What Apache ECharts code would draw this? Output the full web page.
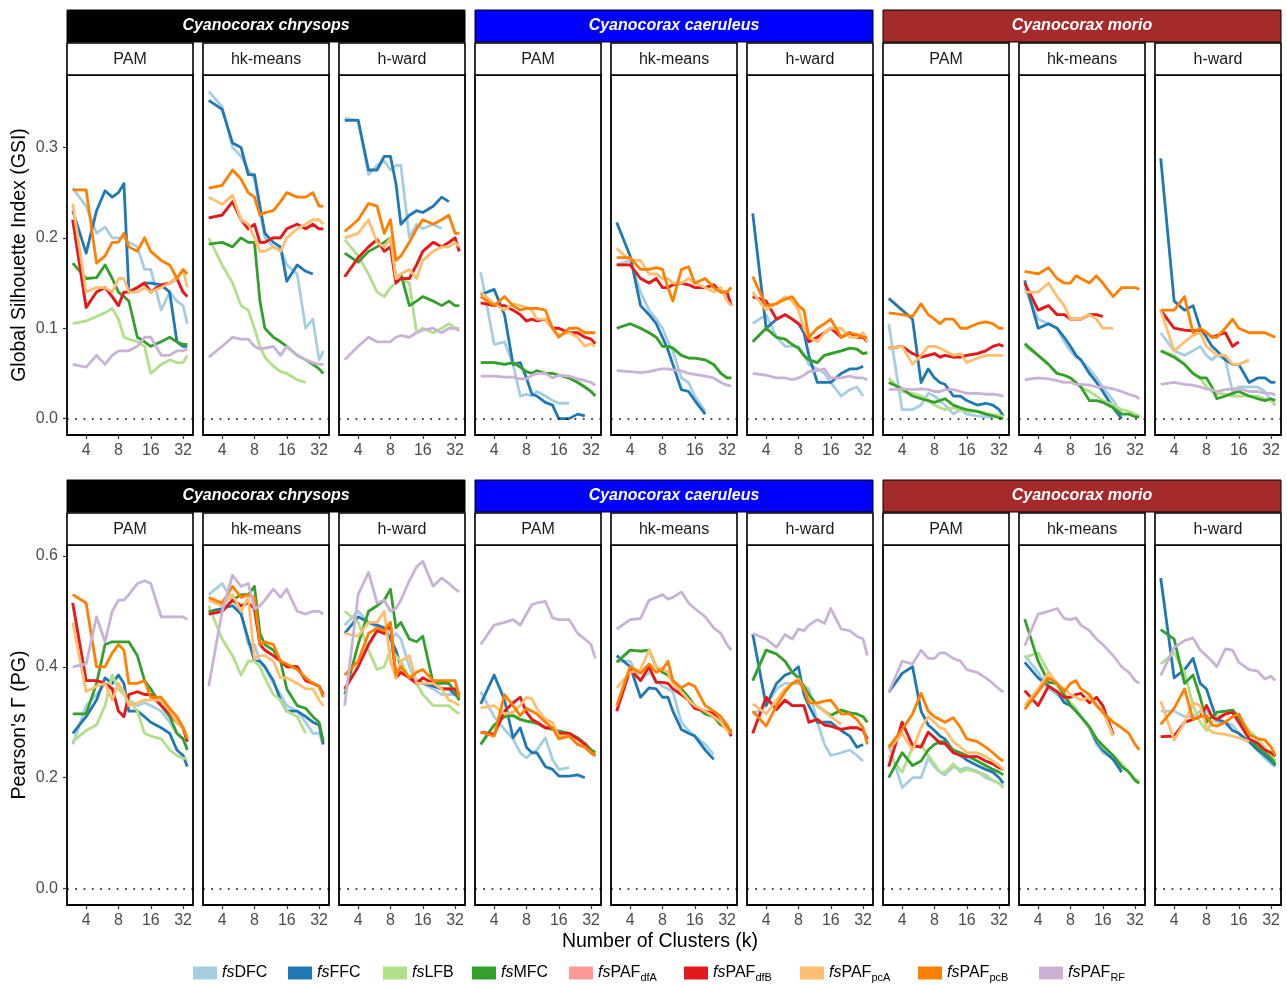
<!DOCTYPE html>
<html>
<head>
<meta charset="utf-8">
<script src="https://cdn.jsdelivr.net/npm/echarts@6/dist/echarts.min.js"></script>
<style>html,body{margin:0;padding:0;background:#fff}#c{width:1287px;height:985px}</style>
</head>
<body>
<div id="c"></div>
<script>
// ---------- data ----------
const K = [3,4,5,6,7,8,9,10,12,14,16,20,24,28,32,35];
const SPECIES = ['Cyanocorax chrysops','Cyanocorax caeruleus','Cyanocorax morio'];
const SPECIES_COLORS = ['#000000','#0000FF','#A52A2A'];
const METHODS = ['PAM','hk-means','h-ward'];
const SERIES_KEYS = ['DFC','FFC','LFB','MFC','dfA','dfB','pcA','pcB','RF'];
const SERIES_NAMES = ['fsDFC','fsFFC','fsLFB','fsMFC','fsPAF_dfA','fsPAF_dfB','fsPAF_pcA','fsPAF_pcB','fsPAF_RF'];
const SERIES_COLORS = ['#A6CEE3','#1F78B4','#B2DF8A','#33A02C','#FB9A99','#E31A1C','#FDBF6F','#FF7F00','#CAB2D6'];
const X_TICKS = [4,8,16,32];
const GSI_TICKS = [0,0.1,0.2,0.3];
const PG_TICKS = [0,0.2,0.4,0.6];
const GSI_LIMITS = [-0.0181, 0.3801];
const PG_LIMITS = [-0.0295, 0.6195];
const Y_TITLES = ['Global Silhouette Index (GSI)', "Pearson's \u0393 (PG)"];
const X_TITLE = 'Number of Clusters (k)';

// GSI (top row)
const GSI_chrysops_PAM = {
  DFC:[0.255,0.235,0.205,0.212,0.2,0.2,0.2,0.195,0.19,0.165,0.165,0.12,0.14,0.13,0.125,0.105],
  FFC:[0.23,0.183,0.23,0.252,0.245,0.25,0.26,0.14,0.145,0.15,0.15,0.148,0.14,0.085,0.08,0.08],
  LFB:[0.105,0.108,0.113,0.117,0.122,0.11,0.09,0.088,0.085,0.08,0.05,0.06,0.065,0.062,0.062,0.07],
  MFC:[0.172,0.155,0.156,0.17,0.155,0.14,0.135,0.13,0.09,0.085,0.08,0.085,0.09,0.085,0.082,0.082],
  dfB:[0.22,0.123,0.14,0.145,0.135,0.125,0.14,0.14,0.145,0.15,0.14,0.148,0.15,0.155,0.14,0.135],
  pcA:[0.238,0.14,0.145,0.145,0.14,0.155,0.155,0.14,0.14,0.145,0.14,0.145,0.15,0.155,0.165,0.145],
  pcB:[0.253,0.253,0.172,0.18,0.195,0.195,0.205,0.19,0.185,0.2,0.185,0.175,0.17,0.155,0.165,0.16],
  RF:[0.06,0.057,0.07,0.06,0.07,0.075,0.075,0.075,0.08,0.09,0.09,0.07,0.07,0.075,0.075,0.077]
};
const GSI_chrysops_hkmeans = {
  DFC:[0.362,0.345,0.3,0.29,0.275,0.265,0.23,0.2,0.19,0.188,0.17,0.16,0.1,0.11,0.065,0.075],
  FFC:[0.352,0.342,0.305,0.3,0.27,0.27,0.235,0.205,0.195,0.19,0.152,0.17,0.163,0.16,null,null],
  LFB:[0.2,0.17,0.15,0.125,0.12,0.1,0.08,0.068,0.058,0.052,0.05,0.043,0.04,null,null,null],
  MFC:[0.193,0.195,0.19,0.2,0.195,0.195,0.13,0.1,0.09,0.085,0.08,0.07,0.065,0.06,0.055,0.05],
  dfB:[0.222,0.225,0.24,0.22,0.21,0.215,0.195,0.195,0.2,0.2,0.21,0.215,0.21,0.215,0.21,0.21],
  pcA:[0.245,0.237,0.247,0.22,0.215,0.2,0.185,0.185,0.19,0.185,0.2,0.21,0.215,0.22,0.22,0.215],
  pcB:[0.255,0.258,0.275,0.265,0.25,0.245,0.225,0.228,0.23,0.24,0.25,0.245,0.245,0.25,0.235,0.235],
  RF:[0.068,0.08,0.09,0.088,0.088,0.08,0.077,0.078,0.08,0.07,0.08,0.07,0.065,0.062,0.06,0.06]
};
const GSI_chrysops_hward = {
  DFC:[0.332,0.33,0.27,0.28,0.285,0.275,0.28,0.28,0.2,0.215,0.21,0.215,0.21,null,null,null],
  FFC:[0.33,0.33,0.275,0.275,0.29,0.29,0.26,0.215,0.225,0.23,0.228,0.235,0.245,0.24,null,null],
  LFB:[0.198,0.18,0.16,0.14,0.135,0.145,0.15,0.155,0.15,0.095,0.1,0.095,0.1,0.105,0.1,0.1],
  MFC:[0.183,0.173,0.185,0.19,0.195,0.2,0.155,0.16,0.125,0.13,0.135,0.13,0.125,0.13,0.125,0.125],
  dfB:[0.157,0.178,0.19,0.198,0.185,0.19,0.15,0.155,0.155,0.17,0.185,0.195,0.19,0.195,0.2,0.185],
  pcA:[0.2,0.205,0.22,0.195,0.19,0.2,0.155,0.16,0.165,0.155,0.175,0.185,0.19,0.19,0.195,0.19],
  pcB:[0.207,0.22,0.238,0.235,0.205,0.22,0.175,0.18,0.195,0.21,0.22,0.215,0.22,0.225,0.205,0.205],
  RF:[0.065,0.08,0.09,0.085,0.085,0.085,0.09,0.092,0.09,0.095,0.098,0.1,0.095,0.1,0.1,0.097]
};
const GSI_caeruleus_PAM = {
  DFC:[0.162,0.082,0.085,0.06,0.025,0.027,0.025,0.03,0.025,0.02,0.017,0.017,null,null,null,null],
  FFC:[0.137,0.143,0.115,0.06,0.062,0.045,0.027,0.025,0.018,0.015,0.0,0.0,0.005,0.003,null,null],
  LFB:[0.062,0.062,0.06,0.062,0.057,0.052,0.05,0.053,0.05,0.05,0.048,0.045,0.04,0.035,0.03,0.025],
  MFC:[0.062,0.062,0.06,0.062,0.057,0.052,0.05,0.053,0.05,0.05,0.048,0.045,0.04,0.035,0.03,0.025],
  dfB:[0.128,0.125,0.125,0.12,0.115,0.108,0.11,0.108,0.11,0.1,0.1,0.095,0.095,0.09,0.088,0.083],
  pcA:[0.14,0.127,0.12,0.127,0.125,0.123,0.12,0.11,0.11,0.1,0.092,0.095,0.09,0.08,0.083,0.08],
  pcB:[0.135,0.125,0.135,0.125,0.12,0.122,0.122,0.122,0.12,0.1,0.09,0.1,0.1,0.095,0.095,0.095],
  RF:[0.047,0.047,0.046,0.046,0.044,0.044,0.048,0.05,0.05,0.045,0.048,0.047,0.044,0.042,0.04,0.037]
};
const GSI_caeruleus_hkmeans = {
  DFC:[0.17,0.175,0.14,0.12,0.11,0.1,0.085,0.075,0.045,0.04,0.025,0.008,null,null,null,null],
  FFC:[0.217,0.18,0.125,0.115,0.105,0.09,0.076,0.06,0.032,0.03,0.02,0.005,null,null,null,null],
  LFB:[0.1,0.105,0.1,0.095,0.09,0.08,0.08,0.078,0.07,0.067,0.067,0.065,0.06,0.05,0.045,0.045],
  MFC:[0.1,0.105,0.1,0.095,0.09,0.08,0.08,0.078,0.07,0.067,0.067,0.065,0.06,0.05,0.045,0.045],
  dfB:[0.17,0.17,0.155,0.15,0.155,0.145,0.145,0.148,0.15,0.148,0.145,0.145,0.148,0.14,0.14,0.125],
  pcA:[0.188,0.175,0.175,0.16,0.16,0.155,0.155,0.15,0.15,0.155,0.15,0.145,0.14,0.145,0.13,0.125],
  pcB:[0.178,0.178,0.165,0.165,0.167,0.165,0.145,0.13,0.165,0.168,0.15,0.155,0.145,0.14,0.14,0.145],
  RF:[0.053,0.052,0.051,0.052,0.054,0.055,0.055,0.054,0.053,0.05,0.049,0.047,0.045,0.04,0.037,0.036]
};
const GSI_caeruleus_hward = {
  DFC:[0.105,0.115,0.09,0.08,0.08,0.08,0.07,0.06,0.055,0.05,0.04,0.025,0.032,0.035,0.025,null],
  FFC:[0.227,0.1,0.11,0.115,0.11,0.105,0.095,0.07,0.04,0.04,0.04,0.05,0.055,0.055,0.058,null],
  LFB:[0.085,0.1,0.09,0.088,0.082,0.078,0.07,0.065,0.062,0.07,0.072,0.075,0.078,0.077,0.072,0.073],
  MFC:[0.085,0.1,0.09,0.088,0.082,0.078,0.07,0.065,0.062,0.07,0.072,0.075,0.078,0.077,0.072,0.073],
  dfB:[0.135,0.13,0.11,0.115,0.11,0.105,0.1,0.085,0.09,0.095,0.1,0.09,0.095,0.09,0.09,0.085],
  pcA:[0.14,0.12,0.128,0.135,0.13,0.12,0.1,0.09,0.085,0.095,0.1,0.1,0.09,0.09,0.095,0.085],
  pcB:[0.157,0.125,0.127,0.132,0.135,0.125,0.12,0.09,0.1,0.105,0.11,0.09,0.095,0.093,0.09,0.09],
  RF:[0.05,0.048,0.045,0.045,0.043,0.045,0.048,0.052,0.053,0.055,0.045,0.045,0.047,0.045,0.045,0.043]
};
const GSI_morio_PAM = {
  DFC:[0.105,0.01,0.01,0.015,0.028,0.025,0.02,0.015,0.005,0.01,0.005,0.003,0.002,0.001,null,null],
  FFC:[0.133,0.12,0.11,0.04,0.055,0.045,0.04,0.038,0.025,0.025,0.02,0.015,0.017,0.015,0.01,0.003],
  LFB:[0.045,0.03,0.028,0.025,0.02,0.015,0.012,0.01,0.012,0.01,0.008,0.008,0.006,0.004,0.004,0.002],
  MFC:[0.04,0.033,0.025,0.022,0.02,0.018,0.02,0.022,0.015,0.012,0.01,0.008,0.005,0.003,0.001,0.0],
  dfB:[0.078,0.08,0.072,0.068,0.07,0.072,0.068,0.07,0.068,0.068,0.07,0.072,0.075,0.08,0.082,0.08],
  pcA:[0.078,0.08,0.06,0.07,0.08,0.08,0.078,0.075,0.07,0.072,0.062,0.067,0.07,0.07,0.07,0.07],
  pcB:[0.117,0.115,0.113,0.127,0.115,0.11,0.105,0.11,0.11,0.1,0.1,0.105,0.107,0.105,0.1,0.1],
  RF:[0.032,0.033,0.032,0.033,0.032,0.03,0.03,0.032,0.032,0.03,0.028,0.028,0.027,0.027,0.026,0.025]
};
const GSI_morio_hkmeans = {
  DFC:[0.145,0.11,0.105,0.1,0.085,0.075,0.068,0.065,0.055,0.045,0.035,0.02,0.005,null,null,null],
  FFC:[0.153,0.1,0.105,0.1,0.09,0.08,0.07,0.065,0.05,0.04,0.03,0.012,0.0,null,null,null],
  LFB:[0.08,0.07,0.06,0.05,0.048,0.045,0.04,0.035,0.03,0.025,0.02,0.015,0.01,0.008,0.005,0.003],
  MFC:[0.083,0.07,0.06,0.05,0.048,0.045,0.04,0.035,0.02,0.02,0.018,0.012,0.005,0.005,0.002,0.002],
  dfB:[0.15,0.12,0.125,0.115,0.115,0.11,0.11,0.11,0.115,0.115,0.113,null,null,null,null,null],
  pcA:[0.14,0.14,0.15,0.135,0.125,0.11,0.11,0.11,0.115,0.11,0.1,0.1,null,null,null,null],
  pcB:[0.163,0.16,0.167,0.155,0.15,0.15,0.158,0.155,0.15,0.158,0.15,0.135,0.145,0.145,0.145,0.143],
  RF:[0.043,0.045,0.044,0.042,0.04,0.04,0.038,0.038,0.037,0.035,0.035,0.033,0.03,0.027,0.025,0.022]
};
const GSI_morio_hward = {
  DFC:[0.095,0.075,0.07,0.075,0.08,0.07,0.065,0.07,0.065,0.03,0.035,0.035,0.035,0.03,0.02,0.015],
  FFC:[0.288,0.13,0.12,0.125,0.1,0.09,0.08,0.075,0.065,0.06,0.06,0.04,0.045,0.045,0.04,0.04],
  LFB:[0.075,0.07,0.06,0.05,0.045,0.035,0.03,0.028,0.027,0.025,0.025,0.025,0.025,0.022,0.02,0.015],
  MFC:[0.075,0.068,0.06,0.05,0.045,0.045,0.035,0.022,0.025,0.028,0.03,0.025,0.022,0.02,0.022,0.02],
  dfB:[0.12,0.1,0.098,0.097,0.098,0.095,0.09,0.092,0.095,0.08,0.085,null,null,null,null,null],
  pcA:[0.12,0.075,0.085,0.092,0.095,0.08,0.075,0.07,0.07,0.06,0.06,0.065,null,null,null,null],
  pcB:[0.12,0.12,0.135,0.095,0.1,0.095,0.09,0.09,0.1,0.11,0.1,0.095,0.095,0.095,0.092,0.09],
  RF:[0.038,0.04,0.038,0.037,0.035,0.033,0.032,0.03,0.032,0.033,0.033,0.03,0.03,0.028,0.028,0.026]
};

// PG (bottom row)
const PG_chrysops_PAM = {
  DFC:[0.26,0.33,0.35,0.37,0.36,0.36,0.35,0.34,0.33,0.335,0.33,0.32,0.3,0.28,0.27,0.255],
  FFC:[0.28,0.31,0.34,0.38,0.37,0.385,0.37,0.32,0.32,0.31,0.3,0.29,0.28,0.25,0.24,0.22],
  LFB:[0.265,0.285,0.295,0.33,0.385,0.36,0.35,0.34,0.32,0.28,0.275,0.27,0.25,0.24,0.235,0.235],
  MFC:[0.315,0.315,0.37,0.44,0.445,0.445,0.445,0.445,0.42,0.375,0.36,0.33,0.31,0.28,0.27,0.25],
  dfB:[0.515,0.375,0.375,0.37,0.36,0.32,0.31,0.35,0.355,0.35,0.35,0.33,0.315,0.3,0.29,0.265],
  pcA:[0.48,0.355,0.365,0.37,0.34,0.37,0.355,0.33,0.335,0.34,0.34,0.34,0.32,0.3,0.29,0.275],
  pcB:[0.53,0.515,0.4,0.4,0.425,0.44,0.43,0.37,0.37,0.375,0.345,0.345,0.325,0.31,0.29,0.27],
  RF:[0.4,0.405,0.49,0.445,0.5,0.52,0.52,0.53,0.55,0.555,0.55,0.49,0.49,0.49,0.49,0.485]
};
const PG_chrysops_hkmeans = {
  DFC:[0.53,0.55,0.52,0.5,0.44,0.44,0.41,0.4,0.37,0.35,0.33,0.32,0.3,0.28,0.28,0.26],
  FFC:[0.5,0.505,0.51,0.495,0.45,0.41,0.41,0.4,0.375,0.34,0.32,0.32,0.31,0.3,0.295,0.26],
  LFB:[0.51,0.45,0.42,0.385,0.41,0.41,0.4,0.38,0.35,0.34,0.32,0.31,0.28,null,null,null],
  MFC:[0.5,0.5,0.52,0.53,0.53,0.545,0.46,0.44,0.43,0.41,0.36,0.33,0.325,0.31,0.3,0.265],
  dfB:[0.495,0.5,0.52,0.51,0.515,0.505,0.44,0.43,0.42,0.41,0.4,0.4,0.375,0.37,0.365,0.35],
  pcA:[0.52,0.51,0.53,0.5,0.525,0.415,0.42,0.42,0.41,0.38,0.38,0.37,0.36,0.36,0.34,0.33],
  pcB:[0.525,0.515,0.545,0.525,0.53,0.525,0.44,0.445,0.44,0.41,0.405,0.395,0.38,0.37,0.365,0.345],
  RF:[0.365,0.5,0.565,0.545,0.55,0.505,0.51,0.52,0.54,0.525,0.54,0.5,0.495,0.5,0.5,0.495]
};
const PG_chrysops_hward = {
  DFC:[0.475,0.5,0.48,0.47,0.46,0.45,0.46,0.45,0.4,0.37,0.37,0.36,0.35,0.35,0.35,0.34],
  FFC:[0.46,0.49,0.48,0.475,0.47,0.45,0.43,0.4,0.38,0.375,0.37,0.365,0.36,0.36,0.35,0.345],
  LFB:[0.5,0.48,0.43,0.395,0.4,0.43,0.42,0.41,0.38,0.37,0.35,0.33,0.33,0.33,0.32,0.315],
  MFC:[0.35,0.44,0.5,0.51,0.52,0.54,0.47,0.48,0.45,0.445,0.455,0.37,0.37,0.37,0.355,0.34],
  dfB:[0.36,0.4,0.44,0.465,0.46,0.475,0.38,0.39,0.38,0.37,0.38,0.37,0.36,0.36,0.36,0.35],
  pcA:[0.46,0.455,0.48,0.48,0.5,0.41,0.38,0.41,0.42,0.37,0.37,0.37,0.36,0.34,0.335,0.33],
  pcB:[0.385,0.41,0.46,0.47,0.465,0.48,0.385,0.4,0.38,0.39,0.395,0.375,0.375,0.375,0.375,0.345],
  RF:[0.33,0.53,0.57,0.515,0.52,0.5,0.505,0.52,0.555,0.58,0.59,0.545,0.56,0.55,0.54,0.535]
};
const PG_caeruleus_PAM = {
  DFC:[0.355,0.31,0.287,0.27,0.245,0.236,0.245,0.25,0.272,0.233,0.215,0.218,null,null,null,null],
  FFC:[0.333,0.385,0.34,0.272,0.29,0.255,0.245,0.245,0.22,0.215,0.203,0.203,0.205,0.2,null,null],
  LFB:[0.26,0.295,0.31,0.312,0.305,0.302,0.3,0.298,0.29,0.287,0.284,0.28,0.272,0.262,0.25,0.245],
  MFC:[0.26,0.295,0.31,0.312,0.305,0.302,0.3,0.298,0.29,0.287,0.284,0.28,0.272,0.262,0.25,0.245],
  dfB:[0.282,0.278,0.32,0.335,0.345,0.318,0.305,0.3,0.29,0.29,0.28,0.28,0.27,0.26,0.245,0.24],
  pcA:[0.326,0.33,0.315,0.318,0.33,0.345,0.342,0.325,0.305,0.3,0.275,0.275,0.26,0.255,0.245,0.24],
  pcB:[0.282,0.275,0.35,0.33,0.312,0.325,0.32,0.315,0.3,0.29,0.27,0.275,0.26,0.255,0.245,0.24],
  RF:[0.44,0.475,0.48,0.485,0.475,0.495,0.512,0.515,0.518,0.488,0.485,0.485,0.46,0.45,0.44,0.415]
};
const PG_caeruleus_hkmeans = {
  DFC:[0.41,0.41,0.375,0.39,0.375,0.365,0.36,0.355,0.3,0.285,0.275,0.26,0.242,null,null,null],
  FFC:[0.42,0.4,0.345,0.362,0.36,0.345,0.345,0.32,0.287,0.28,0.275,0.25,0.233,null,null,null],
  LFB:[0.408,0.43,0.428,0.43,0.4,0.39,0.385,0.375,0.36,0.345,0.33,0.315,0.31,0.295,0.29,0.284],
  MFC:[0.408,0.43,0.428,0.43,0.4,0.39,0.385,0.375,0.36,0.345,0.33,0.315,0.31,0.295,0.29,0.284],
  dfB:[0.32,0.395,0.375,0.4,0.372,0.372,0.37,0.36,0.35,0.34,0.325,0.32,0.315,0.3,0.29,0.275],
  pcA:[0.362,0.39,0.395,0.43,0.4,0.395,0.39,0.37,0.355,0.34,0.33,0.32,0.31,0.3,0.285,0.28],
  pcB:[0.33,0.4,0.388,0.405,0.39,0.395,0.41,0.375,0.362,0.37,0.365,0.33,0.32,0.31,0.295,0.28],
  RF:[0.468,0.485,0.487,0.52,0.525,0.53,0.522,0.525,0.535,0.515,0.505,0.49,0.47,0.46,0.44,0.43]
};
const PG_caeruleus_hward = {
  DFC:[0.314,0.33,0.36,0.37,0.37,0.37,0.365,0.36,0.3,0.26,0.24,0.245,0.25,0.24,0.23,null],
  FFC:[0.459,0.33,0.37,0.385,0.39,0.4,0.35,0.33,0.3,0.3,0.3,0.285,0.275,0.255,0.26,null],
  LFB:[0.375,0.43,0.423,0.41,0.39,0.38,0.365,0.35,0.33,0.32,0.312,0.322,0.317,0.315,0.31,0.3],
  MFC:[0.375,0.43,0.423,0.41,0.39,0.38,0.365,0.35,0.33,0.32,0.312,0.322,0.317,0.315,0.31,0.3],
  dfB:[0.28,0.345,0.323,0.34,0.33,0.33,0.33,0.3,0.305,0.295,0.293,0.287,0.29,0.29,0.285,0.27],
  pcA:[0.333,0.315,0.34,0.36,0.37,0.378,0.36,0.34,0.33,0.32,0.31,0.296,null,null,null,null],
  pcB:[0.32,0.293,0.33,0.355,0.37,0.375,0.36,0.335,0.335,0.338,0.34,0.315,0.315,0.305,0.29,0.26],
  RF:[0.46,0.45,0.435,0.458,0.45,0.468,0.465,0.475,0.485,0.478,0.505,0.468,0.465,0.455,0.45,0.42]
};
const PG_morio_PAM = {
  DFC:[0.26,0.182,0.2,0.2,0.235,0.22,0.21,0.205,0.22,0.215,0.218,0.212,0.2,0.195,0.19,0.185],
  FFC:[0.354,0.388,0.4,0.32,0.295,0.285,0.275,0.27,0.248,0.24,0.232,0.222,0.215,0.21,0.2,0.19],
  LFB:[0.24,0.21,0.255,0.26,0.24,0.225,0.21,0.21,0.225,0.21,0.215,0.21,0.205,0.195,0.19,0.182],
  MFC:[0.2,0.245,0.222,0.23,0.25,0.26,0.265,0.265,0.25,0.245,0.24,0.23,0.222,0.215,0.21,0.205],
  dfB:[0.22,0.3,0.258,0.255,0.282,0.272,0.262,0.262,0.245,0.24,0.238,0.238,0.23,0.225,0.218,0.215],
  pcA:[0.25,0.28,0.25,0.29,0.31,0.3,0.29,0.287,0.265,0.255,0.245,0.245,0.238,0.23,0.222,0.215],
  pcB:[0.255,0.287,0.315,0.352,0.32,0.31,0.305,0.3,0.308,0.29,0.27,0.265,0.255,0.245,0.235,0.23],
  RF:[0.354,0.41,0.405,0.43,0.415,0.415,0.425,0.425,0.415,0.41,0.395,0.39,0.38,0.37,0.36,0.354]
};
const PG_morio_hkmeans = {
  DFC:[0.42,0.39,0.36,0.35,0.34,0.335,0.32,0.31,0.29,0.26,0.245,0.235,0.215,null,null,null],
  FFC:[0.408,0.38,0.365,0.355,0.335,0.33,0.32,0.31,0.29,0.265,0.25,0.233,0.21,null,null,null],
  LFB:[0.417,0.425,0.39,0.365,0.35,0.335,0.325,0.31,0.29,0.27,0.255,0.24,0.225,0.21,0.198,0.194],
  MFC:[0.486,0.41,0.372,0.37,0.35,0.33,0.32,0.31,0.292,0.27,0.258,0.24,0.22,0.21,0.195,0.19],
  dfB:[0.357,0.33,0.365,0.355,0.345,0.345,0.35,0.352,0.335,0.345,0.33,0.278,null,null,null,null],
  pcA:[0.33,0.36,0.39,0.37,0.36,0.35,0.345,0.34,0.345,0.33,0.32,0.275,null,null,null,null],
  pcB:[0.323,0.355,0.38,0.37,0.355,0.37,0.375,0.36,0.35,0.33,0.318,0.3,0.29,0.28,0.26,0.25],
  RF:[0.438,0.495,0.5,0.505,0.487,0.485,0.488,0.475,0.465,0.45,0.44,0.42,0.4,0.39,0.375,0.37]
};
const PG_morio_hward = {
  DFC:[0.32,0.32,0.31,0.31,0.32,0.32,0.31,0.3,0.3,0.295,0.28,0.265,0.25,0.235,0.225,0.22],
  FFC:[0.56,0.38,0.395,0.415,0.37,0.36,0.33,0.305,0.3,0.285,0.28,0.265,0.25,0.24,0.23,0.222],
  LFB:[0.405,0.425,0.39,0.33,0.3,0.285,0.3,0.31,0.315,0.318,0.31,0.285,0.27,0.255,0.24,0.23],
  MFC:[0.467,0.45,0.37,0.385,0.345,0.3,0.31,0.318,0.32,0.322,0.31,0.27,0.255,0.245,0.235,0.225],
  dfB:[0.274,0.275,0.3,0.305,0.31,0.33,0.31,0.305,0.315,0.318,0.3,0.27,0.262,0.25,0.245,0.239],
  pcA:[0.338,0.268,0.3,0.335,0.33,0.29,0.282,0.28,0.278,0.275,0.272,0.265,null,null,null,null],
  pcB:[0.296,0.325,0.36,0.305,0.31,0.312,0.295,0.293,0.3,0.31,0.315,0.278,0.27,0.268,0.255,0.24],
  RF:[0.384,0.435,0.447,0.452,0.43,0.42,0.41,0.4,0.432,0.43,0.408,0.395,0.392,0.378,0.383,0.375]
};

const ROWS = [
  [GSI_chrysops_PAM, GSI_chrysops_hkmeans, GSI_chrysops_hward,
   GSI_caeruleus_PAM, GSI_caeruleus_hkmeans, GSI_caeruleus_hward,
   GSI_morio_PAM, GSI_morio_hkmeans, GSI_morio_hward],
  [PG_chrysops_PAM, PG_chrysops_hkmeans, PG_chrysops_hward,
   PG_caeruleus_PAM, PG_caeruleus_hkmeans, PG_caeruleus_hward,
   PG_morio_PAM, PG_morio_hkmeans, PG_morio_hward]
];

// ---------- layout ----------
const FONT = "'Liberation Sans', Arial, Helvetica, sans-serif";
const LEFTS = [67,203,339,475,611,747,883,1019,1155];
const PW = 126, PH = 360;
const PANEL_TOPS = [75,545];
const STRIP_TOPS = [10,480];
const LEGEND_LEFTS = [193,288,383,472,569,684,800,918,1039];
const lk0 = Math.log2(K[0]), lk1 = Math.log2(K[K.length-1]);
const XMIN = lk0 - 0.05*(lk1-lk0), XMAX = lk1 + 0.05*(lk1-lk0);
const XTICK_POS = X_TICKS.map(v => Math.log2(v));

const grids = [], xAxes = [], yAxes = [], series = [], graphics = [];
let gi = 0;
ROWS.forEach((row, r) => {
  const lim = r === 0 ? GSI_LIMITS : PG_LIMITS;
  const ticks = r === 0 ? GSI_TICKS : PG_TICKS;
  row.forEach((panel, c) => {
    grids.push({left: LEFTS[c], top: PANEL_TOPS[r], width: PW, height: PH,
      show: true, borderColor: '#000', borderWidth: 1.8, backgroundColor: '#fff',
      containLabel: false, outerBoundsMode: 'none'});
    xAxes.push({gridIndex: gi, type: 'value', min: XMIN, max: XMAX,
      axisLine: {show: false, onZero: false}, splitLine: {show: false},
      axisTick: {show: true, length: 4, customValues: XTICK_POS, lineStyle: {color: '#333', width: 1.2}},
      axisLabel: {show: true, customValues: XTICK_POS, margin: 8,
        formatter: v => String(Math.round(Math.pow(2, v))),
        fontSize: 16, color: '#4D4D4D', fontFamily: FONT}});
    yAxes.push({gridIndex: gi, type: 'value', min: lim[0], max: lim[1],
      axisLine: {show: false, onZero: false}, splitLine: {show: false},
      axisTick: {show: c === 0, length: 4, customValues: ticks, lineStyle: {color: '#333', width: 1.2}},
      axisLabel: {show: c === 0, customValues: ticks, margin: 9,
        formatter: v => v.toFixed(1), fontSize: 16, color: '#4D4D4D', fontFamily: FONT}});
    SERIES_KEYS.forEach((key, si) => {
      const arr = key === 'dfA' ? panel.dfB : panel[key];
      const data = [];
      arr.forEach((v, i) => { if (v !== null) data.push([Math.log2(K[i]), v]); });
      const s = {type: 'line', name: SERIES_NAMES[si], xAxisIndex: gi, yAxisIndex: gi,
        data: data, symbol: 'none', showSymbol: false, silent: true, animation: false,
        lineStyle: {color: SERIES_COLORS[si], width: 2.8, join: 'round', cap: 'butt'},
        itemStyle: {color: SERIES_COLORS[si]}, z: 2};
      if (si === 0) {
        s.markLine = {silent: true, symbol: 'none', animation: false, label: {show: false},
          lineStyle: {color: '#000', width: 1.7, type: [1.7, 6.6]}, data: [{yAxis: 0}]};
      }
      series.push(s);
    });
    gi++;
  });
  // strips
  SPECIES.forEach((sp, j) => {
    const x0 = LEFTS[j*3], x1 = LEFTS[j*3+2] + PW;
    graphics.push({type: 'rect', shape: {x: x0, y: STRIP_TOPS[r], width: x1 - x0, height: 32},
      style: {fill: SPECIES_COLORS[j], stroke: '#000', lineWidth: 1}, silent: true});
    graphics.push({type: 'text', x: (x0 + x1) / 2, y: STRIP_TOPS[r] + 16, silent: true,
      style: {text: sp, fill: '#fff', fontSize: 16, fontWeight: 'bold', fontStyle: 'italic',
        fontFamily: FONT, align: 'center', verticalAlign: 'middle'}});
  });
  LEFTS.forEach((L, c) => {
    graphics.push({type: 'rect', shape: {x: L, y: STRIP_TOPS[r] + 33, width: PW, height: 32},
      style: {fill: '#fff', stroke: '#000', lineWidth: 1.6}, silent: true});
    graphics.push({type: 'text', x: L + PW / 2, y: STRIP_TOPS[r] + 50, silent: true,
      style: {text: METHODS[c % 3], fill: '#1A1A1A', fontSize: 16, fontFamily: FONT,
        align: 'center', verticalAlign: 'middle'}});
  });
  graphics.push({type: 'text', x: 20, y: PANEL_TOPS[r] + PH / 2, rotation: Math.PI / 2, silent: true,
    style: {text: Y_TITLES[r], fill: '#000', fontSize: 19.5, fontFamily: FONT,
      align: 'center', verticalAlign: 'middle'}});
});
graphics.push({type: 'text', x: 660, y: 942, silent: true,
  style: {text: X_TITLE, fill: '#000', fontSize: 19.5, fontFamily: FONT,
    align: 'center', verticalAlign: 'middle'}});

function legendLabel(name) {
  const m = name.match(/^fs(PAF)_(\w+)$/);
  if (m) return '{it|fs}{tx|PAF}{sub|' + m[2] + '}';
  return '{it|fs}{tx|' + name.slice(2) + '}';
}
const legendTextStyle = {fontSize: 16, color: '#000', fontFamily: FONT,
  rich: {
    it: {fontSize: 16, fontStyle: 'italic', fontFamily: FONT, color: '#000', lineHeight: 21, verticalAlign: 'middle'},
    tx: {fontSize: 16, fontFamily: FONT, color: '#000', lineHeight: 21, verticalAlign: 'middle'},
    sub: {fontSize: 11, fontFamily: FONT, color: '#000', lineHeight: 13, verticalAlign: 'bottom'}
  }};
const legends = SERIES_NAMES.map((name, i) => ({
  left: LEGEND_LEFTS[i], top: 965, padding: 0, orient: 'horizontal', icon: 'rect',
  itemWidth: 24, itemHeight: 13, selectedMode: false, data: [name],
  formatter: legendLabel, textStyle: legendTextStyle
}));

const chart = echarts.init(document.getElementById('c'), null, {renderer: 'canvas'});
chart.setOption({
  animation: false,
  backgroundColor: '#fff',
  grid: grids, xAxis: xAxes, yAxis: yAxes, series: series,
  legend: legends,
  graphic: {elements: graphics}
});
</script>
</body>
</html>
